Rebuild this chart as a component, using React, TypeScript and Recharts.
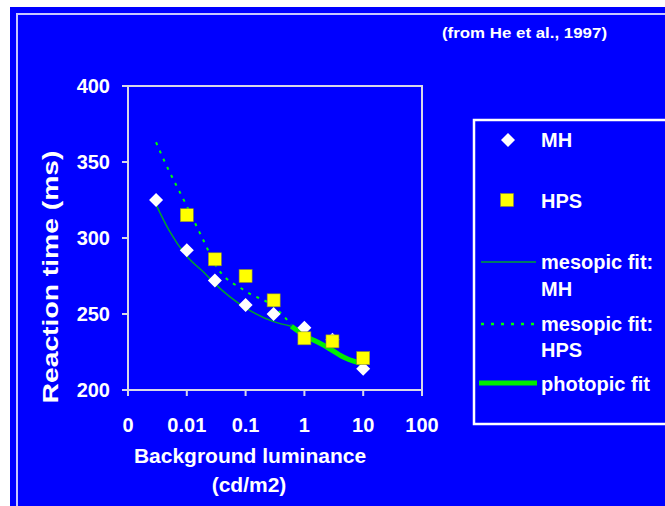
import { ComposedChart, XAxis, YAxis, Line, Scatter, ReferenceArea } from "recharts";

const FONT = '"Liberation Sans", Arial, Helvetica, sans-serif';
const BLUE = '#0000ff';
const FRAME = '#d8d8e8';

// luminance (cd/m2) ticks; the first one is printed as "0"
const xTicks = [0.001, 0.01, 0.1, 1, 10, 100];
const yTicks = [200, 250, 300, 350, 400];

// measured reaction times
const mhLum = [0.003, 0.01, 0.03, 0.1, 0.3, 1, 3, 10];
const mhRT = [325, 292, 272, 256, 250, 241, 233, 214];
const hpsLum = [0.01, 0.03, 0.1, 0.3, 1, 3, 10];
const hpsRT = [315, 286, 275, 259, 234, 232, 221];

// model fits
const mesopicMhLum = [0.003, 0.005, 0.01, 0.02, 0.03, 0.1, 0.3, 0.6];
const mesopicMhRT = [322, 305, 288, 277, 270, 254, 245, 242];
const mesopicHpsLum = [0.003, 0.004, 0.01, 0.02, 0.03, 0.1, 0.3, 0.6];
const mesopicHpsRT = [363, 352, 321, 297, 283, 265, 255, 243];
const photopicLum = [0.6, 1, 2, 3, 5, 10];
const photopicRT = [242, 236, 230, 226, 221, 217];

const toPoints = (xs: number[], ys: number[]) => xs.map((x, i) => ({ x, y: ys[i] }));

const mhData = toPoints(mhLum, mhRT);
const hpsData = toPoints(hpsLum, hpsRT);
const mesopicMhData = toPoints(mesopicMhLum, mesopicMhRT);
const mesopicHpsData = toPoints(mesopicHpsLum, mesopicHpsRT);
const photopicData = toPoints(photopicLum, photopicRT);

const tickStyle = { fill: '#ffffff', fontSize: 20, fontWeight: 700, fontFamily: FONT };

const Diamond = ({ cx, cy }: any) => (
    <polygon points={`${cx},${cy - 7} ${cx + 7},${cy} ${cx},${cy + 7} ${cx - 7},${cy}`} fill="#ffffff" />
);

const Square = ({ cx, cy }: any) => (
    <rect x={cx - 6.5} y={cy - 6.5} width={13} height={13} fill="#ffff00" stroke="#8a8a30" strokeWidth={0.6} />
);

const txt = { fill: '#ffffff', fontFamily: FONT, fontWeight: 700 } as const;

export default function App() {
    return (
        <div style={{ position: 'absolute', left: 0, top: 0, width: 665, height: 506, background: '#ffffff', overflow: 'hidden' }}>
            <div style={{ position: 'absolute', left: 10, top: 7, width: 655, height: 499, background: BLUE }} />
            {/* thin pale frame of the slide */}
            <div style={{ position: 'absolute', left: 16, top: 13, width: 660, height: 491, borderLeft: '2px solid #c8c8ff', borderTop: '2px solid #c8c8ff', borderBottom: '1px solid #c8c8ff' }} />

            <div style={{ position: 'absolute', left: 0, top: 0 }}>
                <ComposedChart width={665} height={506} margin={{ top: 86, right: 243, bottom: 76, left: 68 }}>
                    <XAxis
                        dataKey="x"
                        type="number"
                        scale="log"
                        domain={[0.001, 100]}
                        ticks={xTicks}
                        allowDataOverflow
                        height={40}
                        stroke={FRAME}
                        strokeWidth={2}
                        tickSize={6}
                        tickMargin={22}
                        tick={tickStyle}
                        tickFormatter={(v: number) => (v === 0.001 ? '0' : String(v))}
                    />
                    <YAxis
                        dataKey="y"
                        type="number"
                        domain={[200, 400]}
                        ticks={yTicks}
                        width={60}
                        stroke={FRAME}
                        strokeWidth={2}
                        tickSize={6}
                        tickMargin={12}
                        tick={tickStyle}
                    />
                    <ReferenceArea x1={0.001} x2={100} y1={200} y2={400} fill="none" stroke={FRAME} strokeWidth={2} fillOpacity={0} />
                    <Line data={mesopicMhData} dataKey="y" type="monotone" stroke="#00a030" strokeWidth={1.5} dot={false} isAnimationActive={false} />
                    <Line data={mesopicHpsData} dataKey="y" type="monotone" stroke="#00ff00" strokeWidth={2} strokeDasharray="3 6" dot={false} isAnimationActive={false} />
                    <Line data={photopicData} dataKey="y" type="monotone" stroke="#00ee00" strokeWidth={5} dot={false} isAnimationActive={false} />
                    <Scatter data={mhData} dataKey="y" shape={<Diamond />} isAnimationActive={false} />
                    <Scatter data={hpsData} dataKey="y" shape={<Square />} isAnimationActive={false} />
                </ComposedChart>
            </div>

            <svg width={665} height={506} style={{ position: 'absolute', left: 0, top: 0, pointerEvents: 'none' }}>
                <text x={442} y={38} fontSize={15} textLength={165} lengthAdjust="spacingAndGlyphs" {...txt}>(from He et al., 1997)</text>
                <text x={0} y={0} fontSize={22} textAnchor="middle" textLength={253} lengthAdjust="spacingAndGlyphs"
                    transform="translate(58 277) rotate(-90)" {...txt}>Reaction time (ms)</text>
                <text x={250} y={463} fontSize={21} textAnchor="middle" {...txt}>Background luminance</text>
                <text x={249} y={492} fontSize={21} textAnchor="middle" {...txt}>(cd/m2)</text>

                {/* legend */}
                <rect x={474} y={120} width={200} height={304} fill="none" stroke="#ffffff" strokeWidth={2.5} />
                <Diamond cx={508} cy={140} />
                <text x={541} y={147} fontSize={20} {...txt}>MH</text>
                <Square cx={507} cy={200} />
                <text x={541} y={208} fontSize={20} {...txt}>HPS</text>
                <line x1={481} y1={262} x2={536} y2={262} stroke="#00a030" strokeWidth={1.5} />
                <text x={541} y={269} fontSize={20} {...txt}>mesopic fit:</text>
                <text x={541} y={296} fontSize={20} {...txt}>MH</text>
                <line x1={481} y1={324} x2={535} y2={324} stroke="#00ff00" strokeWidth={2.5} strokeDasharray="3 7" />
                <text x={541} y={331} fontSize={20} {...txt}>mesopic fit:</text>
                <text x={541} y={357} fontSize={20} {...txt}>HPS</text>
                <line x1={479} y1={383} x2={537} y2={383} stroke="#00ee00" strokeWidth={5} />
                <text x={541} y={391} fontSize={20} {...txt}>photopic fit</text>
            </svg>
        </div>
    );
}
